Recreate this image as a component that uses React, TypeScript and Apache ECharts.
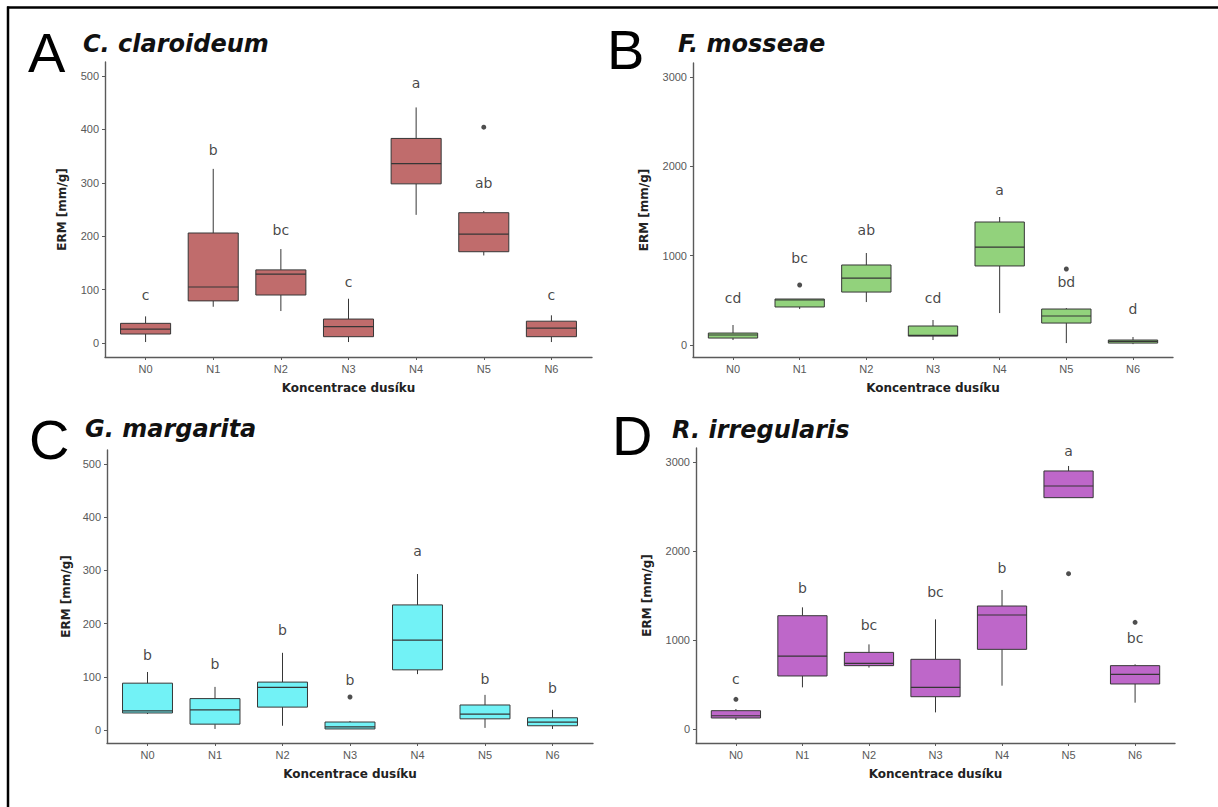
import React, { useEffect, useRef } from "react";
import * as echarts from "echarts";

// ---------- data ----------
const categories = ["N0", "N1", "N2", "N3", "N4", "N5", "N6"];

const panelLetters = ["A", "B", "C", "D"];
const panelTitles = ["C. claroideum", "F. mosseae", "G. margarita", "R. irregularis"];
const colors = ["#C06C6C", "#92D27C", "#72F2F6", "#BE67C9"];

const yTicksSmall = [0, 100, 200, 300, 400, 500];
const yTicksLarge = [0, 1000, 2000, 3000];

// Panel A – C. claroideum
const A_min = [2, 68, 60, 2, 240, 164, 2];
const A_q1 = [17, 79, 90, 12, 298, 171, 12];
const A_med = [26, 105, 129, 31, 336, 204, 28];
const A_q3 = [37, 206, 137, 45, 383, 244, 41];
const A_max = [50, 326, 176, 83, 441, 247, 52];
const A_outliers = [[5, 404]];
const A_letters = ["c", "b", "bc", "c", "a", "ab", "c"];
const A_letterY = [90, 361, 212, 114, 487, 300, 90];

// Panel B – F. mosseae
const B_min = [56, 403, 481, 56, 358, 22, 10];
const B_q1 = [78, 426, 593, 100, 885, 246, 22];
const B_med = [112, 504, 750, 108, 1097, 325, 40];
const B_q3 = [134, 515, 896, 213, 1377, 403, 56];
const B_max = [224, 515, 1030, 280, 1433, 414, 90];
const B_outliers = [[1, 672], [5, 851]];
const B_letters = ["cd", "bc", "ab", "cd", "a", "bd", "d"];
const B_letterY = [526, 974, 1288, 526, 1736, 705, 403];

// Panel C – G. margarita
const C_min = [30, 2, 8, 2, 105, 4, 2];
const C_q1 = [32, 11, 43, 2, 113, 21, 8];
const C_med = [36, 38, 80, 6, 169, 30, 15];
const C_q3 = [88, 59, 90, 15, 235, 47, 23];
const C_max = [109, 81, 145, 17, 293, 66, 38];
const C_outliers = [[3, 62]];
const C_letters = ["b", "b", "b", "b", "a", "b", "b"];
const C_letterY = [141, 124, 188, 94, 336, 95, 79];

// Panel D – R. irregularis
const D_min = [101, 468, 690, 187, 487, 2599, 296];
const D_q1 = [124, 596, 712, 363, 895, 2599, 506];
const D_med = [149, 820, 738, 468, 1281, 2730, 614];
const D_q3 = [206, 1273, 861, 783, 1382, 2899, 712];
const D_max = [225, 1367, 951, 1232, 1562, 2955, 727];
const D_outliers = [[0, 334], [5, 1745], [6, 1199]];
const D_letters = ["c", "b", "bc", "bc", "b", "a", "bc"];
const D_letterY = [562, 1586, 1168, 1535, 1805, 3127, 1019];

const panels = [
  { min: A_min, q1: A_q1, med: A_med, q3: A_q3, max: A_max, out: A_outliers, letters: A_letters, letterY: A_letterY, ticks: yTicksSmall },
  { min: B_min, q1: B_q1, med: B_med, q3: B_q3, max: B_max, out: B_outliers, letters: B_letters, letterY: B_letterY, ticks: yTicksLarge },
  { min: C_min, q1: C_q1, med: C_med, q3: C_q3, max: C_max, out: C_outliers, letters: C_letters, letterY: C_letterY, ticks: yTicksSmall },
  { min: D_min, q1: D_q1, med: D_med, q3: D_q3, max: D_max, out: D_outliers, letters: D_letters, letterY: D_letterY, ticks: yTicksLarge },
];

// ---------- layout / style ----------
const grids = [
  { left: 105, top: 62, width: 487, height: 295 },
  { left: 693, top: 63, width: 480, height: 294 },
  { left: 107, top: 450, width: 486, height: 293 },
  { left: 696, top: 448, width: 479, height: 295 },
];
const yRanges = [
  [-26, 526],
  [-134, 3157],
  [-24.4, 526],
  [-157, 3157],
];
const yNameGaps = [37, 43, 35, 43];
const titlePos = [
  { x: 83, y: 44 },
  { x: 678, y: 44 },
  { x: 85, y: 429 },
  { x: 672, y: 430 },
];
const letterPos = [
  { x: 28, y: 52 },
  { x: 607, y: 49 },
  { x: 29, y: 439 },
  { x: 612, y: 435 },
];

const AXIS_COLOR = "#5a5a5a";
const TICK_LABEL_COLOR = "#595959";
const BOX_LINE = "#363636";
const BOX_WIDTH = 0.74;
const FONT = "'DejaVu Sans', Verdana, sans-serif";

function buildOption() {
  const xAxis: any[] = [];
  const yAxis: any[] = [];
  const series: any[] = [];
  const graphic: any[] = [];

  panels.forEach((p, i) => {
    xAxis.push({
      gridIndex: i,
      type: "value",
      min: -0.6,
      max: 6.6,
      name: "Koncentrace dusíku",
      nameLocation: "middle",
      nameGap: 25,
      nameTextStyle: { fontFamily: FONT, fontSize: 12, fontWeight: "bold", color: "#222" },
      splitLine: { show: false },
      axisLine: { show: true, onZero: false, lineStyle: { color: AXIS_COLOR, width: 1.4 } },
      axisTick: { show: true, length: 3, customValues: categories.map((_, k) => k), lineStyle: { color: AXIS_COLOR } },
      axisLabel: {
        customValues: categories.map((_, k) => k),
        formatter: (v: number) => categories[Math.round(v)] ?? "",
        color: TICK_LABEL_COLOR,
        fontFamily: "'Liberation Sans', Arial, sans-serif",
        fontSize: 11,
        margin: 6,
      },
    });
    yAxis.push({
      gridIndex: i,
      type: "value",
      min: yRanges[i][0],
      max: yRanges[i][1],
      name: "ERM [mm/g]",
      nameLocation: "middle",
      nameGap: yNameGaps[i],
      nameRotate: 90,
      nameTextStyle: { fontFamily: FONT, fontSize: 12, fontWeight: "bold", color: "#222" },
      splitLine: { show: false },
      axisLine: { show: true, onZero: false, lineStyle: { color: AXIS_COLOR, width: 1.4 } },
      axisTick: { show: true, length: 3, customValues: p.ticks, lineStyle: { color: AXIS_COLOR } },
      axisLabel: {
        customValues: p.ticks,
        formatter: (v: number) => String(Math.round(v)),
        color: TICK_LABEL_COLOR,
        fontFamily: "'Liberation Sans', Arial, sans-serif",
        fontSize: 11,
        margin: 6,
      },
    });

    const boxData = categories.map((_, k) => [k, p.min[k], p.q1[k], p.med[k], p.q3[k], p.max[k]]);
    const fill = colors[i];
    series.push({
      type: "custom",
      xAxisIndex: i,
      yAxisIndex: i,
      data: boxData,
      encode: { x: 0, y: [1, 2, 3, 4, 5] },
      renderItem: (params: any, api: any) => {
        const x = api.value(0);
        const lo = api.coord([x, api.value(1)]);
        const q1 = api.coord([x, api.value(2)]);
        const md = api.coord([x, api.value(3)]);
        const q3 = api.coord([x, api.value(4)]);
        const hi = api.coord([x, api.value(5)]);
        const w = api.size([BOX_WIDTH, 0])[0];
        const cx = lo[0];
        const stroke = { stroke: BOX_LINE, lineWidth: 1 };
        return {
          type: "group",
          children: [
            { type: "line", shape: { x1: cx, y1: q3[1], x2: cx, y2: hi[1] }, style: stroke },
            { type: "line", shape: { x1: cx, y1: q1[1], x2: cx, y2: lo[1] }, style: stroke },
            {
              type: "rect",
              shape: { x: cx - w / 2, y: q3[1], width: w, height: Math.max(q1[1] - q3[1], 1) },
              style: { fill, stroke: BOX_LINE, lineWidth: 1 },
            },
            { type: "line", shape: { x1: cx - w / 2, y1: md[1], x2: cx + w / 2, y2: md[1] }, style: { stroke: BOX_LINE, lineWidth: 1.2 } },
          ],
        };
      },
    });

    series.push({
      type: "scatter",
      xAxisIndex: i,
      yAxisIndex: i,
      data: p.out,
      symbol: "circle",
      symbolSize: 5,
      itemStyle: { color: "#222" },
    });

    const letters = p.letters;
    series.push({
      type: "scatter",
      xAxisIndex: i,
      yAxisIndex: i,
      data: categories.map((_, k) => [k, p.letterY[k]]),
      symbol: "circle",
      symbolSize: 1,
      itemStyle: { color: "rgba(0,0,0,0)" },
      label: {
        show: true,
        position: "inside",
        formatter: (prm: any) => letters[prm.dataIndex],
        fontFamily: FONT,
        fontSize: 14,
        color: "#151515",
      },
    });

    graphic.push({
      type: "text",
      x: titlePos[i].x,
      y: titlePos[i].y,
      style: {
        text: panelTitles[i],
        font: `italic bold 24px ${FONT}`,
        fill: "#111",
        align: "left",
        verticalAlign: "middle",
      },
    });
    graphic.push({
      type: "text",
      x: letterPos[i].x,
      y: letterPos[i].y,
      style: {
        text: panelLetters[i],
        font: `56px 'Liberation Sans', Arial, sans-serif`,
        fill: "#000",
        align: "left",
        verticalAlign: "middle",
      },
    });
  });

  // frame (top and left edges)
  graphic.push({ type: "line", shape: { x1: 7, y1: 7.5, x2: 1218, y2: 7.5 }, style: { stroke: "#000", lineWidth: 2.5 } });
  graphic.push({ type: "line", shape: { x1: 8, y1: 6.5, x2: 8, y2: 807 }, style: { stroke: "#000", lineWidth: 2.5 } });

  return {
    animation: false,
    backgroundColor: "#fff",
    grid: grids.map((g) => ({ ...g, containLabel: false })),
    xAxis,
    yAxis,
    series,
    graphic,
  };
}

export default function App() {
  const ref = useRef<HTMLDivElement>(null);
  useEffect(() => {
    if (!ref.current) return;
    const chart = echarts.init(ref.current, undefined, { renderer: "svg" });
    chart.setOption(buildOption() as any);
    return () => chart.dispose();
  }, []);
  return (
    <div
      ref={ref}
      style={{ position: "fixed", left: 0, top: 0, width: 1218, height: 807, background: "#fff" }}
    />
  );
}
